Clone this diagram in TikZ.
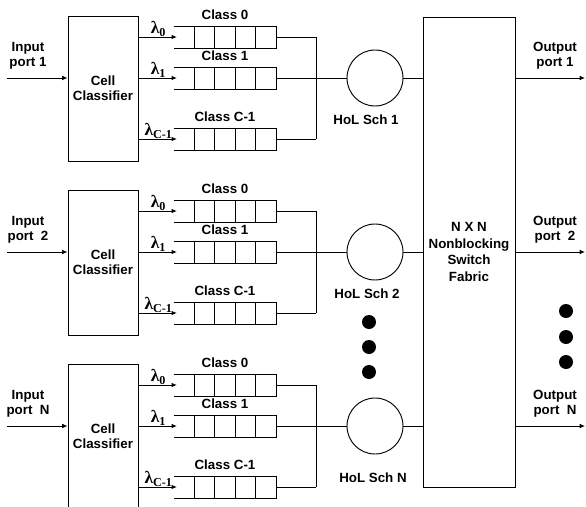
\documentclass[tikz,border=0pt]{standalone}
\usepackage{fontspec}
\setmainfont{Liberation Sans}
\newfontfamily\lamfont{Liberation Serif}
\usetikzlibrary{arrows.meta,positioning,calc}

\tikzset{
  lbl/.style={font=\fontsize{10}{11.25}\selectfont\bfseries, align=center, inner sep=1pt},
  classifier/.style={draw, lbl, minimum width=52.5pt, minimum height=108.75pt, inner sep=0pt},
  queuebox/.style={minimum width=76.5pt, minimum height=15.75pt, inner sep=0pt},
  sched/.style={draw, circle, minimum size=42pt, inner sep=0pt},
  fabric/.style={draw, lbl, font=\fontsize{10}{12.4}\selectfont\bfseries,
    minimum width=69pt, minimum height=352.5pt},
  lam/.style={font=\lamfont\fontsize{13}{14}\selectfont\bfseries, inner sep=0pt, anchor=base},
  arr/.style={-{Latex[length=4pt,width=3.5pt]}},
}

\begin{document}
\begin{tikzpicture}[x=0.75pt, y=-0.75pt, line width=0.7pt]
  \useasboundingbox (0,0) rectangle (586,507);

  % switch fabric
  \node[fabric] (sw) at (469,252) {N X N\\Nonblocking\\Switch\\Fabric};

  % one block per input port
  \foreach \g/\top/\gap/\dx/\plab in {1/16/5pt/-6.75pt/{port 1},
                                      2/190/5pt/-6pt/{port~~2},
                                      N/364/12.5pt/-1.5pt/{port~~N}} {
    \node[classifier] (cls\g) at (103,\top+72.5) {Cell\\Classifier};
    \node[queuebox] (q\g0) at (225,\top+21) {};
    \node[queuebox] (q\g1) at (225,\top+62) {};
    \node[queuebox] (q\g2) at (225,\top+123) {};
    \coordinate (bar\g) at (316,\top+62);
    \node[sched] (hol\g) at (375,\top+62) {};

    % input side
    \coordinate (in\g) at (7,\top+62);
    \draw[arr] (in\g) -- (cls\g.west |- in\g);
    \node[lbl, anchor=south] at ($(in\g)+(21,-6.5)$) {Input\\\plab};

    % class queues
    \foreach \k/\name in {0/0, 1/1, 2/C-1} {
      \draw (q\g\k.north west) -- (q\g\k.north east) -- (q\g\k.south east) -- (q\g\k.south west);
      \foreach \c in {1,...,4}
        \draw ($(q\g\k.north west)!\c/5!(q\g\k.north east)$) -- ($(q\g\k.south west)!\c/5!(q\g\k.south east)$);
      \node[lbl, above=3.5pt of q\g\k] {Class \name};
      \draw[arr, shorten >=-2.5pt] (cls\g.east |- q\g\k.west) -- (q\g\k.west);
      \node[lam] at ($(q\g\k.west)+(-15,-3.5)$) {λ\textsubscript{\name}};
      \draw (q\g\k.east) -- (q\g\k.east -| bar\g);
    }

    % head-of-line scheduler
    \draw (q\g0.east -| bar\g) -- (q\g2.east -| bar\g);
    \draw (bar\g) -- (hol\g.west);
    \draw (hol\g) -- (sw.west |- hol\g);
    \node[lbl, below=\gap of hol\g, xshift=\dx] {HoL Sch \g};

    % output side
    \coordinate (out\g) at (585,\top+62);
    \draw[arr] (sw.east |- out\g) -- (out\g);
    \node[lbl, anchor=south] at ($(out\g)+(-30,-6.5)$) {Output\\\plab};
  }

  % more ports
  \foreach \y in {322,347,372}
    \fill (369,\y) circle (5.25pt);
  \foreach \y in {311,337,362}
    \fill (566,\y) circle (5.25pt);
\end{tikzpicture}
\end{document}
